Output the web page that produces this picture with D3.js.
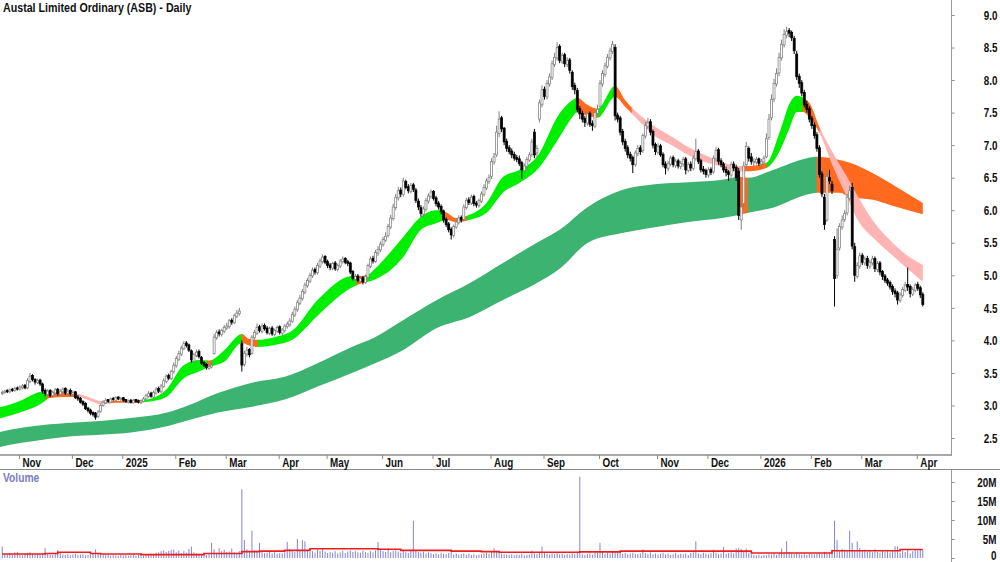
<!DOCTYPE html>
<html><head><meta charset="utf-8">
<script src="https://cdn.jsdelivr.net/npm/d3@7"></script>
<style>
html,body{margin:0;padding:0;background:#fff;}
svg{display:block;}
</style></head><body>
<svg id="c" width="1000" height="562"></svg>
<script>
// ---------------- DATA (daily bars, index 0 = 23 Oct 2024) ----------------
const title = "Austal Limited Ordinary (ASB) - Daily";
const openP = [
3.18,3.20,3.23,3.21,3.25,3.23,3.27,3.25,3.27,3.31,
3.27,3.37,3.46,3.40,3.35,3.39,3.33,3.23,3.17,3.23,
3.15,3.19,3.25,3.17,3.21,3.26,3.18,3.23,3.17,3.21,
3.13,3.11,3.06,3.03,2.96,2.93,2.89,2.88,2.83,2.91,
3.00,3.04,3.09,3.05,3.11,3.08,3.13,3.09,3.12,3.09,
3.05,3.08,3.04,3.09,3.07,3.04,3.06,3.10,3.14,3.19,
3.13,3.19,3.26,3.21,3.29,3.37,3.46,3.41,3.52,3.61,
3.71,3.79,3.87,3.96,3.93,3.84,3.68,3.77,3.83,3.74,
3.66,3.63,3.57,3.59,3.80,4.04,4.13,4.09,4.14,4.19,
4.21,4.31,4.27,4.37,4.41,3.95,3.63,3.79,3.86,3.80,
4.04,4.11,4.21,4.14,4.23,4.19,4.11,4.19,4.09,4.14,
4.21,4.11,4.15,4.21,4.24,4.29,4.39,4.47,4.57,4.64,
4.74,4.84,4.91,4.99,5.09,5.04,5.14,5.21,5.29,5.21,
5.16,5.11,5.19,5.09,5.14,5.21,5.26,5.21,5.19,5.06,
4.94,4.99,4.91,4.96,4.89,4.97,5.14,5.26,5.21,5.34,
5.39,5.47,5.54,5.61,5.74,5.87,6.04,6.19,6.31,6.24,
6.44,6.36,6.29,6.39,6.31,6.14,6.04,5.94,6.01,6.14,
6.21,6.29,6.19,6.11,6.06,5.99,5.86,5.79,5.71,5.61,
5.74,5.81,5.89,5.86,6.04,6.16,6.11,6.21,6.11,6.07,
6.14,6.24,6.34,6.44,6.52,6.74,6.85,7.18,7.42,7.26,
7.06,6.96,6.91,6.86,6.81,6.79,6.73,6.61,6.67,6.77,
6.86,7.20,6.88,7.40,7.62,7.86,7.74,7.94,8.04,8.24,
8.34,8.52,8.28,8.39,8.24,8.31,8.12,7.92,7.84,7.56,
7.49,7.41,7.34,7.49,7.33,7.29,7.49,7.60,7.94,8.09,
8.21,8.34,8.44,8.50,7.46,7.42,7.21,7.06,6.96,6.86,
6.81,6.70,6.87,6.96,6.92,7.14,7.29,7.36,7.21,7.01,
6.89,6.99,6.86,6.71,6.64,6.71,6.81,6.69,6.76,6.67,
6.71,6.79,6.61,6.71,6.64,6.79,6.91,6.76,6.63,6.61,
6.54,6.63,6.59,6.79,6.93,6.76,6.71,6.63,6.59,6.54,
6.71,6.66,6.60,5.85,6.10,6.70,6.95,6.82,6.73,6.74,
6.79,6.71,6.74,6.82,7.12,7.42,7.71,7.94,8.11,8.34,
8.54,8.69,8.76,8.73,8.64,8.40,8.06,7.96,7.81,7.63,
7.56,7.41,7.31,7.16,6.96,6.56,6.20,5.85,6.50,6.40,
5.55,5.00,5.42,5.74,5.86,5.96,6.18,6.35,5.44,4.98,
5.14,5.31,5.19,5.26,5.14,5.19,5.26,5.09,5.19,5.06,
4.99,4.93,4.89,4.83,4.76,4.73,4.61,4.69,4.77,4.86,
4.83,4.71,4.77,4.86,4.81,4.71];
const highP = [
3.23,3.24,3.25,3.26,3.27,3.29,3.29,3.31,3.33,3.33,
3.42,3.50,3.48,3.42,3.41,3.41,3.35,3.26,3.25,3.25,
3.23,3.27,3.27,3.25,3.28,3.28,3.25,3.26,3.23,3.22,
3.16,3.13,3.08,3.05,2.98,2.95,2.91,2.90,2.93,3.03,
3.08,3.11,3.10,3.12,3.13,3.14,3.14,3.13,3.13,3.10,
3.09,3.10,3.10,3.10,3.09,3.09,3.13,3.18,3.22,3.21,
3.23,3.28,3.29,3.33,3.42,3.48,3.49,3.55,3.66,3.76,
3.84,3.92,3.99,3.99,3.95,3.86,3.81,3.86,3.86,3.76,
3.68,3.65,3.63,3.66,4.10,4.16,4.17,4.18,4.24,4.27,
4.33,4.34,4.41,4.47,4.50,4.00,3.84,3.90,3.88,4.08,
4.16,4.26,4.24,4.26,4.26,4.22,4.21,4.22,4.18,4.23,
4.23,4.19,4.25,4.29,4.34,4.44,4.52,4.62,4.70,4.79,
4.89,4.96,5.04,5.12,5.12,5.19,5.26,5.32,5.31,5.24,
5.19,5.21,5.22,5.18,5.25,5.29,5.28,5.24,5.21,5.08,
5.02,5.02,4.99,4.99,5.01,5.18,5.29,5.30,5.39,5.45,
5.52,5.59,5.66,5.79,5.93,6.10,6.25,6.36,6.35,6.50,
6.47,6.40,6.42,6.42,6.34,6.18,6.08,6.06,6.19,6.26,
6.32,6.31,6.22,6.14,6.09,6.01,5.89,5.82,5.74,5.78,
5.86,5.92,5.92,6.09,6.19,6.20,6.24,6.24,6.14,6.18,
6.29,6.40,6.49,6.55,6.80,6.88,7.30,7.52,7.45,7.28,
7.10,7.00,6.95,6.90,6.85,6.84,6.76,6.72,6.82,6.89,
7.10,7.25,7.00,7.70,7.92,7.90,8.00,8.10,8.30,8.42,
8.58,8.55,8.42,8.42,8.35,8.34,8.15,7.96,7.88,7.60,
7.53,7.45,7.52,7.52,7.38,7.54,7.62,8.00,8.15,8.27,
8.40,8.50,8.60,8.55,7.50,7.45,7.25,7.10,7.00,6.90,
6.84,6.92,7.00,7.00,7.18,7.36,7.42,7.40,7.24,7.04,
7.03,7.02,6.89,6.75,6.76,6.84,6.84,6.79,6.79,6.76,
6.82,6.82,6.74,6.75,6.84,7.10,6.94,6.79,6.68,6.64,
6.66,6.66,6.84,6.97,6.96,6.80,6.74,6.67,6.62,6.74,
6.75,6.70,6.65,6.10,6.75,7.05,6.98,6.88,6.80,6.82,
6.81,6.79,6.84,7.18,7.48,7.78,8.02,8.18,8.42,8.62,
8.78,8.82,8.80,8.76,8.68,8.45,8.10,8.00,7.85,7.68,
7.60,7.45,7.35,7.20,7.00,6.60,6.25,6.60,6.62,6.45,
5.60,5.72,5.80,5.92,6.00,6.25,6.38,6.42,5.50,5.20,
5.35,5.34,5.29,5.30,5.24,5.30,5.29,5.22,5.22,5.08,
5.02,4.96,4.92,4.86,4.80,4.76,4.74,4.82,4.90,5.12,
4.86,4.82,4.88,4.90,4.84,4.74];
const lowP = [
3.16,3.18,3.19,3.19,3.21,3.21,3.23,3.23,3.25,3.25,
3.25,3.34,3.37,3.32,3.33,3.30,3.18,3.14,3.15,3.12,
3.12,3.16,3.15,3.14,3.19,3.16,3.16,3.15,3.14,3.10,
3.07,3.03,2.99,2.93,2.89,2.85,2.83,2.78,2.81,2.89,
2.98,3.02,3.04,3.04,3.07,3.07,3.08,3.07,3.06,3.04,
3.03,3.03,3.03,3.04,3.03,3.02,3.05,3.08,3.12,3.12,
3.11,3.17,3.19,3.19,3.27,3.34,3.39,3.39,3.49,3.58,
3.68,3.76,3.85,3.89,3.82,3.66,3.66,3.74,3.72,3.62,
3.59,3.55,3.55,3.57,3.78,4.01,4.06,4.06,4.11,4.16,
4.18,4.24,4.25,4.34,4.38,3.52,3.60,3.75,3.74,3.78,
4.01,4.08,4.12,4.11,4.15,4.09,4.08,4.07,4.06,4.11,
4.09,4.08,4.12,4.18,4.21,4.27,4.36,4.44,4.54,4.61,
4.71,4.81,4.88,4.96,5.01,5.01,5.11,5.18,5.17,5.11,
5.08,5.08,5.07,5.06,5.11,5.18,5.17,5.14,5.02,4.92,
4.91,4.89,4.88,4.86,4.87,4.95,5.11,5.18,5.19,5.30,
5.36,5.44,5.51,5.58,5.71,5.84,6.00,6.15,6.20,6.21,
6.32,6.26,6.26,6.28,6.11,6.00,5.90,5.90,5.98,6.10,
6.18,6.15,6.06,6.01,5.94,5.81,5.74,5.66,5.55,5.58,
5.71,5.78,5.81,5.83,6.01,6.08,6.08,6.06,6.04,6.04,
6.11,6.21,6.31,6.40,6.48,6.70,6.82,7.12,7.20,7.00,
6.90,6.86,6.80,6.76,6.74,6.68,6.48,6.58,6.64,6.74,
6.82,6.80,6.82,7.35,7.58,7.70,7.70,7.90,8.00,8.20,
8.30,8.26,8.25,8.20,8.20,8.10,7.85,7.78,7.50,7.40,
7.35,7.28,7.30,7.28,7.22,7.26,7.45,7.58,7.90,8.05,
8.18,8.30,8.40,7.38,7.35,7.15,7.00,6.90,6.80,6.75,
6.57,6.67,6.83,6.85,6.88,7.10,7.25,7.15,6.95,6.85,
6.86,6.82,6.66,6.55,6.60,6.68,6.66,6.65,6.64,6.63,
6.67,6.55,6.58,6.60,6.61,6.76,6.71,6.58,6.55,6.50,
6.50,6.54,6.56,6.75,6.70,6.66,6.58,6.52,6.45,6.50,
6.60,6.45,5.85,5.70,6.05,6.65,6.75,6.70,6.68,6.70,
6.68,6.67,6.70,6.80,7.08,7.38,7.66,7.90,8.06,8.30,
8.50,8.64,8.66,8.60,8.40,8.00,7.88,7.75,7.58,7.50,
7.35,7.25,7.10,6.90,6.50,6.20,5.70,5.82,6.40,6.25,
4.52,4.95,5.38,5.70,5.82,5.92,6.15,5.40,4.90,4.95,
5.10,5.16,5.15,5.10,5.10,5.15,5.05,5.05,5.00,4.93,
4.88,4.84,4.78,4.70,4.66,4.55,4.58,4.66,4.74,4.76,
4.66,4.68,4.74,4.76,4.65,4.52];
const closeP = [
3.20,3.22,3.21,3.24,3.23,3.26,3.25,3.28,3.30,3.27,
3.38,3.45,3.40,3.36,3.38,3.33,3.22,3.18,3.22,3.15,
3.20,3.24,3.18,3.22,3.25,3.19,3.22,3.18,3.20,3.12,
3.10,3.05,3.02,2.95,2.92,2.88,2.86,2.82,2.90,3.00,
3.05,3.08,3.06,3.10,3.09,3.12,3.10,3.11,3.08,3.06,
3.07,3.05,3.08,3.06,3.05,3.07,3.10,3.15,3.18,3.14,
3.20,3.25,3.22,3.30,3.38,3.45,3.42,3.52,3.62,3.72,
3.80,3.88,3.95,3.92,3.85,3.70,3.78,3.82,3.75,3.65,
3.62,3.58,3.60,3.62,4.05,4.12,4.10,4.15,4.20,4.22,
4.30,4.28,4.38,4.42,4.45,3.62,3.80,3.85,3.78,4.05,
4.12,4.20,4.15,4.22,4.18,4.12,4.18,4.10,4.15,4.20,
4.12,4.16,4.22,4.25,4.30,4.40,4.48,4.58,4.65,4.75,
4.85,4.92,5.00,5.08,5.05,5.15,5.22,5.28,5.20,5.15,
5.12,5.18,5.10,5.15,5.22,5.25,5.20,5.18,5.05,4.95,
4.98,4.92,4.95,4.90,4.98,5.15,5.25,5.22,5.35,5.40,
5.48,5.55,5.60,5.75,5.88,6.05,6.20,6.30,6.25,6.45,
6.35,6.30,6.38,6.32,6.15,6.05,5.95,6.02,6.15,6.22,
6.28,6.18,6.10,6.05,5.98,5.85,5.78,5.70,5.62,5.75,
5.82,5.88,5.85,6.05,6.15,6.12,6.20,6.10,6.08,6.15,
6.25,6.35,6.45,6.50,6.75,6.82,7.20,7.40,7.25,7.05,
6.95,6.90,6.85,6.80,6.78,6.72,6.62,6.68,6.78,6.85,
7.05,6.85,6.95,7.65,7.85,7.75,7.95,8.05,8.25,8.35,
8.50,8.30,8.38,8.25,8.30,8.15,7.90,7.85,7.55,7.48,
7.40,7.35,7.48,7.32,7.30,7.50,7.55,7.95,8.10,8.22,
8.35,8.45,8.55,7.45,7.40,7.20,7.05,6.95,6.85,6.80,
6.70,6.88,6.95,6.90,7.15,7.30,7.35,7.20,7.00,6.90,
6.98,6.85,6.70,6.65,6.72,6.80,6.70,6.75,6.68,6.72,
6.78,6.62,6.70,6.65,6.80,6.90,6.75,6.62,6.60,6.55,
6.62,6.58,6.80,6.92,6.75,6.70,6.62,6.58,6.55,6.70,
6.65,6.50,5.92,6.05,6.68,6.98,6.80,6.75,6.75,6.78,
6.72,6.75,6.80,7.10,7.40,7.70,7.95,8.10,8.35,8.55,
8.70,8.75,8.72,8.65,8.45,8.05,7.95,7.80,7.62,7.55,
7.40,7.30,7.15,6.95,6.55,6.25,5.78,6.52,6.45,6.30,
4.95,5.40,5.75,5.85,5.95,6.20,6.30,5.45,5.00,5.15,
5.30,5.20,5.25,5.15,5.20,5.25,5.10,5.18,5.05,4.98,
4.92,4.88,4.82,4.75,4.72,4.62,4.70,4.78,4.85,4.82,
4.72,4.78,4.85,4.80,4.70,4.55];
// volume in millions of shares
const volumeM = [
3.0,1.2,0.9,1.3,0.8,1.5,1.6,0.9,0.7,1.1,
1.4,1.6,1.0,0.8,1.2,0.9,1.3,2.6,1.1,0.9,
0.8,1.0,2.1,1.3,0.9,0.8,1.0,0.7,0.9,1.1,
0.8,0.9,1.0,0.7,0.8,0.9,1.1,2.3,1.2,0.9,
0.8,0.7,0.9,0.6,0.8,0.7,0.6,0.9,0.7,0.8,
0.6,0.7,0.9,0.6,0.8,0.7,0.6,1.0,0.8,1.2,
1.0,1.4,1.5,1.8,2.0,1.6,1.9,2.1,2.2,1.5,
2.0,1.3,1.8,1.4,2.4,3.0,1.5,1.2,1.0,0.9,
1.2,0.8,1.0,4.0,2.3,1.4,2.6,1.8,2.2,1.6,
1.7,2.5,1.5,1.4,1.8,18.1,4.7,2.3,1.5,7.2,
2.0,1.6,4.0,1.8,1.3,1.4,2.0,1.2,1.5,1.1,
1.3,1.2,1.5,4.2,2.4,1.8,1.6,5.0,2.2,4.7,
4.4,2.0,1.6,1.8,1.4,2.2,1.9,2.5,1.7,1.3,
1.6,1.4,1.8,1.2,1.5,1.9,1.3,1.7,2.0,1.6,
1.8,1.5,1.4,1.9,1.6,1.3,1.8,1.5,2.0,4.2,
2.2,1.8,1.6,2.6,1.5,1.9,2.0,1.7,1.4,1.9,
1.5,1.3,1.8,9.8,2.0,1.6,1.4,1.7,1.2,1.5,
1.3,1.0,1.2,0.9,1.4,1.1,1.0,1.3,1.6,0.9,
1.1,0.8,1.0,1.2,0.9,1.1,0.8,1.0,0.7,0.9,
1.0,1.2,1.4,1.1,1.8,2.6,1.9,1.5,1.2,1.0,
0.9,0.8,1.0,0.7,0.9,0.8,1.1,0.7,0.8,0.9,
2.0,1.2,1.0,1.4,3.0,1.6,1.1,0.9,1.2,1.0,
1.3,0.9,1.1,0.8,1.0,0.9,1.2,1.0,1.4,21.4,
1.0,0.8,1.1,1.2,0.9,1.3,1.4,4.0,1.6,1.1,
1.3,1.2,1.9,1.8,1.5,1.6,1.1,1.3,1.0,1.2,
1.4,1.1,1.0,1.2,2.3,1.3,1.1,1.5,1.0,1.2,
0.9,1.1,1.4,1.0,1.2,0.8,1.0,1.3,0.9,1.1,
1.0,1.2,0.8,1.3,1.5,4.4,1.2,1.0,1.4,1.1,
0.9,1.3,2.2,1.4,1.0,1.2,2.9,1.1,1.3,1.5,
1.2,2.5,2.6,2.4,1.8,2.5,1.3,1.0,0.8,0.7,
0.9,0.6,0.8,0.7,1.0,0.9,1.2,0.8,1.1,2.5,
1.4,4.4,1.6,1.2,1.0,1.3,1.1,0.9,1.0,0.8,
1.2,1.0,0.9,1.1,1.3,1.0,1.6,1.2,1.4,2.2,
9.8,4.7,1.8,2.4,2.2,1.9,7.2,4.0,2.0,4.4,
2.6,1.8,2.2,1.7,1.9,1.5,2.3,1.6,1.4,2.0,
1.6,1.8,1.5,1.9,3.1,3.1,1.4,2.0,1.6,2.3,
1.2,1.8,2.1,2.0,2.2,2.1];
// average volume line, bar index -> millions
const avgVolIdx = [0,17,22,35,39,55,80,95,102,112,122,149,158,178,190,197,229,245,297,329,356,365];
const avgVolVal = [1.05,1.2,1.5,1.2,1.05,0.88,1.2,1.67,1.8,2.0,2.45,2.3,2.0,1.8,1.67,1.5,1.6,1.8,1.3,1.9,2.25,2.25];

// short-term moving average ribbon (edges, price)
const shortIdx = [-1,0,7,16,19,25,30,35,39,45,51,56,58.5,65,72,78,82,88,95,98,101,108,115,125,139,142,145,148,159,166,172,176,180,184,192,198.5,205,212,221,226,228,232,236,243,247,252,259,265.5,272,278.5,285.5,291,296.5,303,308.5,312.3,315,317.5,320,324,329.4,335,340,345,352,358.7,365];
const shortUpper = [2.97,2.98,3.07,3.21,3.21,3.21,3.18,3.12,3.07,3.07,3.07,3.09,3.10,3.24,3.62,3.70,3.69,3.85,4.10,4.02,4.01,4.05,4.15,4.62,4.99,4.99,5.01,5.11,5.59,5.90,6.00,5.97,5.88,5.91,6.11,6.51,6.62,6.82,7.49,7.69,7.73,7.62,7.56,7.91,7.69,7.49,7.28,7.13,6.97,6.85,6.74,6.68,6.68,6.73,7.23,7.65,7.76,7.73,7.65,7.28,6.88,6.51,6.16,5.85,5.54,5.31,5.16];
const shortLower = [2.80,2.81,2.89,3.04,3.12,3.13,3.13,3.07,3.02,3.04,3.04,3.05,3.06,3.13,3.42,3.52,3.59,3.67,3.96,3.92,3.90,3.93,4.01,4.38,4.82,4.87,4.90,4.94,5.28,5.70,5.80,5.85,5.82,5.84,5.96,6.27,6.42,6.62,7.13,7.43,7.51,7.45,7.42,7.74,7.59,7.39,7.13,7.00,6.85,6.74,6.67,6.60,6.60,6.65,6.93,7.28,7.51,7.51,7.43,7.19,6.67,6.20,5.80,5.59,5.34,5.11,4.90];
// long-term moving average ribbon (edges, price)
const longIdx = [-1,0,12,25.6,38.7,51.8,65.3,74.4,85.5,99,112,125,138.6,147.8,158.9,172.3,185.4,198.5,212,221,232.2,245.7,258.8,271.9,285.4,292.5,295.7,305.6,319.1,323,332.1,336.1,345.2,352,365];
const longUpper = [2.59,2.60,2.68,2.73,2.76,2.81,2.89,3.01,3.19,3.35,3.44,3.65,3.90,4.05,4.31,4.62,4.88,5.19,5.50,5.70,6.05,6.31,6.40,6.43,6.47,6.51,6.50,6.62,6.80,6.82,6.77,6.73,6.57,6.42,6.11];
const longLower = [2.36,2.37,2.45,2.52,2.55,2.59,2.68,2.78,2.89,2.98,3.09,3.29,3.50,3.65,3.85,4.19,4.36,4.62,4.88,5.10,5.50,5.65,5.74,5.82,5.88,5.93,5.96,6.04,6.24,6.27,6.27,6.20,6.16,6.08,5.94];
// ribbon colour states over bar-index ranges
const shortSegStart = [-1,17.7,29.6,42.7,55.8,81.5,83.1,95,101.4,140.6,144.6,175.5,184.2,227.9,236.2,243,249.7,293.5,303.2,317.5,324.2];
const shortSegEnd   = [17.7,29.6,42.7,55.8,81.5,83.1,95,101.4,140.6,144.6,175.5,184.2,227.9,236.2,243,249.7,293.5,303.2,317.5,324.2,366];
const shortSegState = ["up","turn","down","turn","up","turn","up","turn","up","turn","up","turn","up","turn","up","turn","down","turn","up","turn","down"];
const longSegStart = [-1,292.3,295.7,323];
const longSegEnd   = [292.3,295.7,323,366];
const longSegState = ["up","turn","up","turn"];

const monthTickIdx = [7,28,48,69,89,110,129,151,171,194,215,237,260,280,301,321,341,363];
const monthTickLabels = ["Nov","Dec","2025","Feb","Mar","Apr","May","Jun","Jul","Aug","Sep","Oct","Nov","Dec","2026","Feb","Mar","Apr"];
const priceTicks = [2.5,3.0,3.5,4.0,4.5,5.0,5.5,6.0,6.5,7.0,7.5,8.0,8.5,9.0];
const volTicks = [0,5,10,15,20];
const volTickLabels = ["0","5M","10M","15M","20M"];

// ---------------- STYLE ----------------
const FONT = "'Liberation Sans', Arial, sans-serif";
const NARROW = 0.82;
const shortColors = {up:"#00ee00", turn:"#ff6a1e", down:"#ffb4b4"};
const longColors = {up:"#3cb371", turn:"#ff6a1e"};

const svg = d3.select("#c");
const plotR = 951, priceBottom = 455;
const x = d3.scaleLinear().domain([-0.5, 375.5]).range([1, 949.3]);
const y = d3.scaleLinear().domain([2.5, 9.0]).range([438, 15]);
const yv = d3.scaleLinear().domain([0, 20]).range([558, 482]);

const defs = svg.append("defs");
defs.append("clipPath").attr("id","plotClip").append("rect")
  .attr("x",0).attr("y",0).attr("width",plotR).attr("height",priceBottom);
const gPlot = svg.append("g").attr("clip-path","url(#plotClip)");

function drawBand(idx, up, lo, s0, s1, st, colors, prefix){
  const area = d3.area()
    .x((d,i)=>x(idx[i])).y0((d,i)=>y(lo[i])).y1((d,i)=>y(up[i]))
    .curve(d3.curveMonotoneX);
  s0.forEach((a,k)=>{
    const id = prefix + k;
    const xa = x(a), xb = x(s1[k]);
    defs.append("clipPath").attr("id",id).append("rect")
      .attr("x",xa-0.3).attr("y",0).attr("width",xb-xa+0.6).attr("height",priceBottom);
    gPlot.append("g").attr("clip-path",`url(#${id})`)
      .append("path").datum(idx).attr("d",area).attr("fill",colors[st[k]]);
  });
}
drawBand(longIdx, longUpper, longLower, longSegStart, longSegEnd, longSegState, longColors, "lc");
drawBand(shortIdx, shortUpper, shortLower, shortSegStart, shortSegEnd, shortSegState, shortColors, "sc");

// candles
const bars = d3.range(closeP.length);
const isUp = i => closeP[i] >= openP[i];
gPlot.append("g").selectAll("line").data(bars).join("line")
  .attr("x1",i=>x(i)).attr("x2",i=>x(i))
  .attr("y1",i=>y(Math.max(highP[i],openP[i],closeP[i])))
  .attr("y2",i=>y(Math.min(lowP[i],openP[i],closeP[i])))
  .attr("stroke",i=>isUp(i)?"#808080":"#000").attr("stroke-width",1);
gPlot.append("g").selectAll("rect").data(bars).join("rect")
  .attr("x",i=>x(i)-1).attr("width",2)
  .attr("y",i=>y(Math.max(openP[i],closeP[i])))
  .attr("height",i=>Math.max(0.8,Math.abs(y(openP[i])-y(closeP[i]))))
  .attr("fill",i=>isUp(i)?"#fff":"#000")
  .attr("stroke",i=>isUp(i)?"#808080":"#000").attr("stroke-width",0.75);

// volume
const gVol = svg.append("g");
gVol.selectAll("line").data(bars).join("line")
  .attr("x1",i=>x(i)).attr("x2",i=>x(i))
  .attr("y1",yv(0)).attr("y2",i=>yv(volumeM[i]))
  .attr("stroke","#8484d6").attr("stroke-width",1);
gVol.append("path").datum(avgVolIdx)
  .attr("d", d3.line().x((d,i)=>x(avgVolIdx[i])).y((d,i)=>yv(avgVolVal[i])).curve(d3.curveStepAfter))
  .attr("fill","none").attr("stroke","#ee1c1c").attr("stroke-width",1.6);

// frame lines
svg.append("line").attr("x1",0).attr("x2",plotR).attr("y1",455).attr("y2",455).attr("stroke","#a8a8a8").attr("stroke-width",2);
svg.append("line").attr("x1",0).attr("x2",1000).attr("y1",469.5).attr("y2",469.5).attr("stroke","#8a8a8a").attr("stroke-width",1);
svg.append("line").attr("x1",plotR+0.5).attr("x2",plotR+0.5).attr("y1",0).attr("y2",456).attr("stroke","#9a9a9a");
svg.append("line").attr("x1",plotR+0.5).attr("x2",plotR+0.5).attr("y1",470).attr("y2",562).attr("stroke","#9a9a9a");

// price axis
const gY = svg.append("g").attr("transform",`translate(${plotR+0.5},0)`)
  .call(d3.axisRight(y).tickValues(priceTicks).tickFormat(d3.format(".1f")).tickSize(3).tickSizeOuter(0));
gY.select(".domain").remove();
gY.selectAll(".tick line").attr("stroke","#8a8a8a");
gY.selectAll(".tick text").attr("x",46).attr("text-anchor","end").attr("dy","0.35em");

// volume axis
const gV = svg.append("g").attr("transform",`translate(${plotR+0.5},0)`)
  .call(d3.axisRight(yv).tickValues(volTicks).tickFormat((d,i)=>volTickLabels[i]).tickSize(3).tickSizeOuter(0));
gV.select(".domain").remove();
gV.selectAll(".tick line").attr("stroke","#8a8a8a");
gV.selectAll(".tick text").attr("x",45).attr("text-anchor","end").attr("dy",(d)=>d===0?"0.15em":"0.35em");

// month axis
const gX = svg.append("g").attr("transform","translate(0,455)")
  .call(d3.axisBottom(x).tickValues(monthTickIdx).tickFormat((d,i)=>monthTickLabels[i]).tickSize(4).tickSizeOuter(0));
gX.select(".domain").remove();
gX.selectAll(".tick line").attr("stroke","#8a8a8a").attr("transform","translate(-1,0)");
gX.selectAll(".tick text").attr("x",2).attr("y",12).attr("dy",0).attr("text-anchor","start");

[gY,gV,gX].forEach(g=>g.attr("font-family",FONT).attr("font-size",12).attr("font-weight","bold"));
svg.selectAll(".tick text").attr("fill","#111");

// title + volume label
svg.append("text").attr("x",3).attr("y",12)
  .attr("font-family",FONT).attr("font-size",13).attr("font-weight","bold").attr("fill","#111").text(title);
svg.append("text").attr("x",3).attr("y",482)
  .attr("font-family",FONT).attr("font-size",12.5).attr("font-weight","bold").attr("fill","#7b7bc4").text("Volume");

// narrow all text like the original condensed face
svg.selectAll("text").each(function(){
  const w = this.getComputedTextLength();
  if (w > 0) d3.select(this).attr("textLength", w*NARROW).attr("lengthAdjust","spacingAndGlyphs");
});
</script>
</body></html>
